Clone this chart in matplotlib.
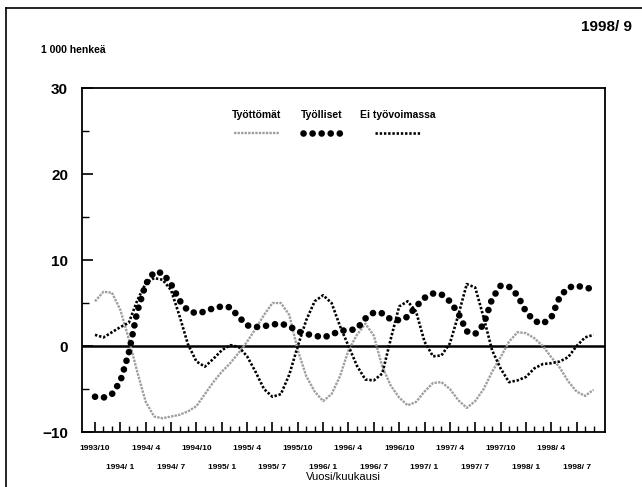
import numpy as np
import matplotlib
matplotlib.use("Agg")
import matplotlib.pyplot as plt
from matplotlib.lines import Line2D

plt.rcParams['font.family'] = ['Liberation Sans', 'DejaVu Sans']

# monthly change, 1000 persons, 1993/10 .. 1998/9
months = [f"{1993 + (9 + i) // 12}/{(9 + i) % 12 + 1:>2}" for i in range(60)]

tyottomat = [5.2, 6.3, 6.2, 4.2, 0.8, -3.0, -6.5, -8.2, -8.4, -8.2,
             -8.0, -7.6, -7.0, -5.6, -4.2, -3.0, -2.0, -0.8, 0.5, 2.0,
             3.6, 5.0, 5.0, 3.6, -0.5, -3.5, -5.3, -6.4, -5.6, -3.5,
             -0.5, 1.3, 2.6, 1.2, -2.4, -4.6, -6.0, -6.9, -6.5, -5.3,
             -4.3, -4.2, -5.0, -6.3, -7.2, -6.4, -5.0, -3.0, -1.3, 0.5,
             1.6, 1.5, 0.9, 0.0, -1.3, -2.5, -4.1, -5.3, -5.8, -5.1]

tyolliset = [-5.9, -6.0, -5.6, -4.1, -0.8, 4.0, 7.2, 8.6, 8.5, 7.2,
             5.3, 4.1, 3.8, 4.0, 4.4, 4.6, 4.5, 3.4, 2.4, 2.2,
             2.3, 2.5, 2.6, 2.3, 1.7, 1.4, 1.2, 1.0, 1.3, 1.8,
             1.8, 2.0, 3.2, 3.9, 3.8, 3.1, 3.0, 3.4, 4.6, 5.6,
             6.1, 6.0, 5.2, 3.8, 1.7, 1.4, 2.5, 5.5, 7.0, 6.9,
             5.9, 4.0, 2.9, 2.6, 3.3, 5.7, 6.8, 7.0, 6.8, 6.6]

ei_tyovoimassa = [1.3, 1.0, 1.6, 2.2, 2.7, 5.3, 7.3, 7.9, 7.7, 6.5,
                  3.5, 0.2, -1.8, -2.4, -1.5, -0.5, 0.1, -0.1, -1.2, -3.0,
                  -5.0, -5.9, -5.6, -3.3, 0.0, 3.0, 5.2, 5.9, 5.0, 2.3,
                  0.0, -2.3, -3.9, -4.0, -3.2, 0.8, 4.6, 5.2, 4.0, 0.5,
                  -1.2, -1.1, 0.3, 3.6, 7.2, 6.8, 3.3, -0.5, -2.6, -4.2,
                  -4.0, -3.6, -2.6, -2.1, -2.0, -1.8, -1.3, 0.0, 1.0, 1.3]

series_names = ["Työttömät", "Työlliset", "Ei työvoimassa"]

x = np.arange(len(months))

grey_style = dict(color='0.62', lw=1.7, linestyle=(0, (1.0, 0.5)))
dot_style = dict(color='black', lw=4.8, linestyle=(0, (0.01, 1.35)),
                 dash_capstyle='round')
line_style = dict(color='black', lw=1.9, linestyle=(0, (0.9, 0.7)),
                  dash_capstyle='butt')

fig = plt.figure(figsize=(6.42, 4.87), dpi=100)
ax = fig.add_axes([82/642, 1 - 432/487, 523/642, 344/487])

ax.axhline(0, color='black', lw=1.8, zorder=1)
ax.plot(x, tyottomat, **grey_style, zorder=2)
ax.plot(x, ei_tyovoimassa, **line_style, zorder=3)
ax.plot(x, tyolliset, **dot_style, zorder=4)

ax.set_xlim(-1.54, 60.36)
ax.set_ylim(-10, 30)

# y axis
ax.set_yticks([-10, 0, 10, 20, 30])
ax.set_yticks([-5, 5, 15, 25], minor=True)
ax.tick_params(axis='y', which='major', direction='in', length=8, width=1.2,
               labelsize=11, pad=10)
ax.tick_params(axis='y', which='minor', direction='in', length=5, width=1)
for lab in ax.get_yticklabels():
    lab.set_fontweight('bold')

# x axis: quarterly labels in two rows, monthly ticks
qpos = x[::3][:20]
ax.set_xticks(qpos)
ax.set_xticklabels([months[i] if k % 2 == 0 else ""
                    for k, i in enumerate(qpos)])
ax.set_xticks(x, minor=True)
ax.tick_params(axis='x', which='major', direction='in', length=7, width=1.2,
               labelsize=6, pad=9)
ax.tick_params(axis='x', which='minor', direction='in', length=4, width=1)
for lab in ax.get_xticklabels():
    lab.set_fontweight('bold')

row2 = ax.secondary_xaxis('bottom')
row2.set_xticks(qpos[1::2])
row2.set_xticklabels([months[i] for i in qpos[1::2]])
row2.tick_params(axis='x', length=0, labelsize=6, pad=23)
row2.spines['bottom'].set_visible(False)
for lab in row2.get_xticklabels():
    lab.set_fontweight('bold')
row2.set_xlabel("Vuosi/kuukausi", fontsize=8, labelpad=1)

for sp in ax.spines.values():
    sp.set_linewidth(1.3)

# legend: labels with samples below
leg_x = [257/642, 322/642, 398/642]
leg_styles = [grey_style, dot_style, line_style]
half = [23/642, 19/642, 23/642]
for name, lx, st, hw in zip(series_names, leg_x, leg_styles, half):
    fig.text(lx, 1 - 115/487, name, ha='center', va='center', fontsize=7.5,
             fontweight='bold')
    fig.add_artist(Line2D([lx - hw, lx + hw], [1 - 133/487, 1 - 133/487],
                          transform=fig.transFigure, **st))

fig.text(41/642, 1 - 50/487, "1 000 henkeä", fontsize=7.5, fontweight='bold',
         va='center', ha='left')
fig.text(632/642, 1 - 27/487, "1998/ 9", fontsize=11, fontweight='bold',
         va='center', ha='right')

# page frame (top and left edges)
fig.add_artist(Line2D([6/642, 1], [1 - 8/487, 1 - 8/487],
                      transform=fig.transFigure, color='black', lw=1.2))
fig.add_artist(Line2D([6/642, 6/642], [0, 1 - 8/487],
                      transform=fig.transFigure, color='black', lw=1.2))

fig.savefig("out.png", dpi=100)
